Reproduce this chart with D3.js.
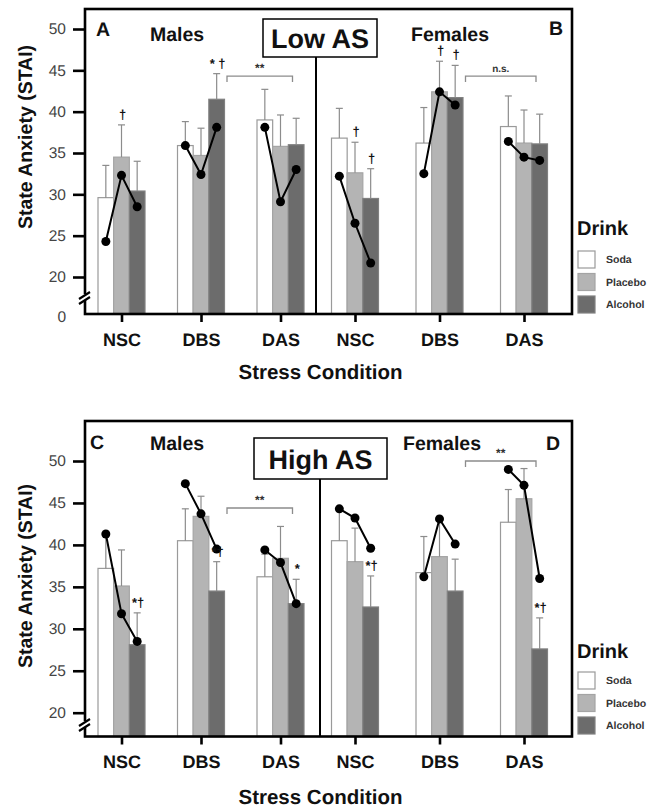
<!DOCTYPE html>
<html>
<head>
<meta charset="utf-8">
<script src="https://cdn.jsdelivr.net/npm/d3@7"></script>
<style>
  html, body { margin: 0; padding: 0; background: #fff; }
  svg { display: block; font-family: "Liberation Sans", Arial, Helvetica, sans-serif; text-rendering: geometricPrecision; }
</style>
</head>
<body>
<div id="chart"></div>
<script>
// ---------------- DATA ----------------
const conditions = ["NSC", "DBS", "DAS"];
const drinks = ["Soda", "Placebo", "Alcohol"];
const yTickValues = [20, 25, 30, 35, 40, 45, 50];

// Low AS - Males (A): [condition][drink]
const lowMaleMean = [[29.6, 34.5, 30.4], [35.9, 34.7, 41.5], [39.0, 35.8, 36.0]];
const lowMaleSE   = [[3.9, 3.9, 3.6], [2.9, 3.3, 3.1], [3.7, 3.8, 3.2]];
const lowMaleDot  = [[24.3, 32.3, 28.5], [35.9, 32.4, 38.1], [38.1, 29.1, 33.0]];

// Low AS - Females (B)
const lowFemaleMean = [[36.8, 32.6, 29.5], [36.2, 42.4, 41.7], [38.2, 36.2, 36.1]];
const lowFemaleSE   = [[3.6, 3.7, 3.6], [4.3, 3.7, 3.9], [3.7, 4.0, 3.6]];
const lowFemaleDot  = [[32.2, 26.5, 21.7], [32.5, 42.4, 40.8], [36.4, 34.5, 34.1]];

// High AS - Males (C)
const highMaleMean = [[37.2, 35.1, 28.1], [40.5, 43.4, 34.5], [36.2, 38.4, 33.0]];
const highMaleSE   = [[3.8, 4.3, 3.8], [3.8, 2.4, 3.5], [2.7, 3.8, 2.9]];
const highMaleDot  = [[41.3, 31.8, 28.5], [47.3, 43.7, 39.5], [39.4, 37.9, 33.0]];

// High AS - Females (D)
const highFemaleMean = [[40.5, 38.0, 32.6], [36.7, 38.6, 34.5], [42.7, 45.5, 27.6]];
const highFemaleSE   = [[3.7, 4.0, 3.7], [4.3, 4.6, 3.8], [3.9, 3.6, 3.7]];
const highFemaleDot  = [[44.3, 43.2, 39.6], [36.2, 43.1, 40.1], [49.0, 47.1, 36.0]];

// significance marks
const lowMarks = [
  { sex: "M", cond: "NSC", drink: "Placebo", text: "†" },
  { sex: "M", cond: "DBS", drink: "Alcohol", text: "* †" },
  { sex: "F", cond: "NSC", drink: "Placebo", text: "†" },
  { sex: "F", cond: "NSC", drink: "Alcohol", text: "†" },
  { sex: "F", cond: "DBS", drink: "Placebo", text: "†" },
  { sex: "F", cond: "DBS", drink: "Alcohol", text: "†" }
];
const highMarks = [
  { sex: "M", cond: "NSC", drink: "Alcohol", text: "*†" },
  { sex: "M", cond: "DBS", drink: "Alcohol", text: "*†" },
  { sex: "M", cond: "DAS", drink: "Alcohol", text: "*" },
  { sex: "F", cond: "NSC", drink: "Alcohol", text: "*†" },
  { sex: "F", cond: "DAS", drink: "Alcohol", text: "*†" }
];
const lowBrackets = [
  { sex: "M", from: "DBS", to: "DAS", level: 44.3, text: "**" },
  { sex: "F", from: "DBS", to: "DAS", level: 44.3, text: "n.s." }
];
const highBrackets = [
  { sex: "M", from: "DBS", to: "DAS", level: 44.4, text: "**" },
  { sex: "F", from: "DBS", to: "DAS", level: 50.0, text: "**" }
];

// ---------------- DRAWING ----------------
const W = 663, H = 808;
const svg = d3.select("#chart").append("svg").attr("width", W).attr("height", H);

const fillColor = d3.scaleOrdinal().domain(drinks).range(["#ffffff", "#b4b4b4", "#6c6c6c"]);
const strokeColor = d3.scaleOrdinal().domain(drinks).range(["#9a9a9a", "#a4a4a4", "#808080"]);
const offset = d3.scaleBand().domain(drinks).range([-23.5, 23.5]);

const xM = d3.scalePoint().domain(conditions).range([121.5, 280.5]);
const xF = d3.scalePoint().domain(conditions).range([355, 524]);

function toRows(mean, se, dot) {
  const rows = [];
  conditions.forEach((c, i) => drinks.forEach((d, j) => {
    rows.push({ cond: c, drink: d, mean: mean[i][j], se: se[i][j], dot: dot[i][j] });
  }));
  return rows;
}

function drawPanel(cfg) {
  const g = svg.append("g");
  const y = d3.scaleLinear().domain([20, 50]).range([cfg.y20, cfg.y50]);
  const base = cfg.baseline;
  const left = 85, right = 572;

  const groups = [
    { sex: "M", x: xM, rows: toRows(...cfg.male) },
    { sex: "F", x: xF, rows: toRows(...cfg.female) }
  ];

  groups.forEach(grp => {
    const bx = r => grp.x(r.cond) + offset(r.drink);
    const cx = r => bx(r) + offset.bandwidth() / 2;

    // bars
    g.append("g").selectAll("rect").data(grp.rows).join("rect")
      .attr("x", bx).attr("y", r => y(r.mean))
      .attr("width", offset.bandwidth()).attr("height", r => base - y(r.mean))
      .attr("fill", r => fillColor(r.drink))
      .attr("stroke", r => strokeColor(r.drink)).attr("stroke-width", 1.2);

    // error bars
    const eb = g.append("g").attr("stroke", "#8c8c8c").attr("stroke-width", 1.2);
    eb.selectAll("line.v").data(grp.rows).join("line").attr("class", "v")
      .attr("x1", cx).attr("x2", cx)
      .attr("y1", r => y(r.mean)).attr("y2", r => y(r.mean + r.se));
    eb.selectAll("line.c").data(grp.rows).join("line").attr("class", "c")
      .attr("x1", r => cx(r) - 3.5).attr("x2", r => cx(r) + 3.5)
      .attr("y1", r => y(r.mean + r.se)).attr("y2", r => y(r.mean + r.se));

    // lines + dots
    conditions.forEach(c => {
      const pts = grp.rows.filter(r => r.cond === c);
      g.append("path").datum(pts)
        .attr("d", d3.line().x(cx).y(r => y(r.dot)))
        .attr("fill", "none").attr("stroke", "#000").attr("stroke-width", 2);
      g.append("g").selectAll("circle").data(pts).join("circle")
        .attr("cx", cx).attr("cy", r => y(r.dot)).attr("r", 4.5).attr("fill", "#000");
    });

    // marks
    cfg.marks.filter(m => m.sex === grp.sex).forEach(m => {
      const r = grp.rows.find(q => q.cond === m.cond && q.drink === m.drink);
      g.append("text").attr("x", cx(r) + 1).attr("y", y(r.mean + r.se) - 6)
        .attr("text-anchor", "middle").attr("font-size", 13).attr("font-weight", "bold")
        .attr("fill", "#111").text(m.text);
    });

    // brackets
    cfg.brackets.filter(b => b.sex === grp.sex).forEach(b => {
      const x1 = grp.x(b.from) + 26, x2 = grp.x(b.to) + 12, yy = y(b.level);
      g.append("path")
        .attr("d", `M${x1},${yy + 6}V${yy}H${x2}V${yy + 6}`)
        .attr("fill", "none").attr("stroke", "#8c8c8c").attr("stroke-width", 1.3);
      g.append("text").attr("x", (x1 + x2) / 2).attr("y", yy - 4)
        .attr("text-anchor", "middle").attr("font-size", b.text === "n.s." ? 10 : 12)
        .attr("font-weight", "bold").attr("fill", "#333").text(b.text);
    });
  });

  // frame
  g.append("rect").attr("x", left).attr("y", cfg.frameTop)
    .attr("width", right - left).attr("height", base - cfg.frameTop)
    .attr("fill", "none").attr("stroke", "#000").attr("stroke-width", 2.6);

  // divider
  g.append("line").attr("x1", cfg.divX).attr("x2", cfg.divX)
    .attr("y1", cfg.box[3]).attr("y2", base)
    .attr("stroke", "#000").attr("stroke-width", 2);

  // y axis
  const ya = g.append("g").attr("transform", `translate(${left},0)`)
    .call(d3.axisLeft(y).tickValues(yTickValues).tickSize(12).tickPadding(7));
  ya.select(".domain").remove();
  ya.selectAll(".tick line").attr("stroke", "#000").attr("stroke-width", 2.6);
  ya.selectAll(".tick text").attr("font-size", 15.5).attr("fill", "#444")
    .attr("font-family", "Liberation Sans, Arial, sans-serif");
  if (cfg.zeroLabel) {
    g.append("text").attr("x", 66).attr("y", base + 3).attr("dy", "0.35em")
      .attr("text-anchor", "end").attr("font-size", 15.5).attr("fill", "#444").text("0");
  }

  // axis break
  const by = cfg.breakY;
  g.append("rect").attr("x", left - 3).attr("y", by - 4).attr("width", 6).attr("height", 6).attr("fill", "#fff");
  g.append("path").attr("d", `M${left - 6},${by + 1}L${left + 5},${by - 6}M${left - 6},${by + 6}L${left + 5},${by - 1}`)
    .attr("stroke", "#000").attr("stroke-width", 2.2).attr("fill", "none");

  // x axes
  [xM, xF].forEach(xs => {
    const xa = g.append("g").attr("transform", `translate(0,${base})`)
      .call(d3.axisBottom(xs).tickSize(8).tickPadding(11));
    xa.select(".domain").remove();
    xa.selectAll(".tick line").attr("stroke", "#000").attr("stroke-width", 2.6);
    xa.selectAll(".tick text").attr("font-size", 18).attr("font-weight", "bold").attr("fill", "#111")
      .attr("font-family", "Liberation Sans, Arial, sans-serif");
  });

  // titles
  g.append("text").attr("x", W / 2 - 11).attr("y", cfg.xTitleY).attr("dy", "0.35em")
    .attr("text-anchor", "middle").attr("font-size", 20.5).attr("font-weight", "bold").attr("fill", "#111")
    .text("Stress Condition");
  g.append("text").attr("transform", `translate(25,${cfg.yTitleY}) rotate(-90)`).attr("dy", "0.35em")
    .attr("text-anchor", "middle").attr("font-size", 19.5).attr("font-weight", "bold").attr("fill", "#111")
    .text("State Anxiety (STAI)");

  // panel letters + sex labels
  const lab = (x, yy, t, fs) => g.append("text").attr("x", x).attr("y", yy).attr("dy", "0.35em")
    .attr("text-anchor", "middle").attr("font-size", fs).attr("font-weight", "bold").attr("fill", "#111").text(t);
  lab(cfg.letters[0][0], cfg.letters[0][1], cfg.letters[0][2], 19.5);
  lab(cfg.letters[1][0], cfg.letters[1][1], cfg.letters[1][2], 19.5);
  lab(177, cfg.sexY, "Males", 19.5);
  lab(cfg.femX, cfg.sexY, "Females", 19.5);

  // AS box
  const [bx0, by0, bx1, by1] = cfg.box;
  g.append("rect").attr("x", bx0).attr("y", by0).attr("width", bx1 - bx0).attr("height", by1 - by0)
    .attr("fill", "#fff").attr("stroke", "#000").attr("stroke-width", 1.5);
  lab((bx0 + bx1) / 2, (by0 + by1) / 2 + 1, cfg.boxText, 27);

  // legend
  const lg = g.append("g").attr("transform", `translate(577,${cfg.legendY})`);
  lg.append("text").attr("x", 0).attr("y", 0).attr("dy", "0.35em")
    .attr("font-size", 20).attr("font-weight", "bold").attr("fill", "#111").text("Drink");
  const items = lg.selectAll("g.item").data(drinks).join("g").attr("class", "item")
    .attr("transform", (d, i) => `translate(1,${cfg.legendRow0 + i * 22.5})`);
  items.append("rect").attr("width", 17).attr("height", 17)
    .attr("fill", d => fillColor(d)).attr("stroke", d => strokeColor(d)).attr("stroke-width", 1.2);
  items.append("text").attr("x", 28).attr("y", 8.5).attr("dy", "0.35em")
    .attr("font-size", 10.5).attr("font-weight", "bold").attr("fill", "#333").text(d => d);
}

drawPanel({
  male: [lowMaleMean, lowMaleSE, lowMaleDot],
  female: [lowFemaleMean, lowFemaleSE, lowFemaleDot],
  marks: lowMarks, brackets: lowBrackets,
  y20: 277, y50: 29, baseline: 314, frameTop: 9, breakY: 298, zeroLabel: true,
  divX: 316, box: [263, 19, 377, 57], boxText: "Low AS",
  letters: [[103, 29, "A"], [556, 28, "B"]], sexY: 34, femX: 450,
  xTitleY: 372, yTitleY: 137, legendY: 228, legendRow0: 23
});

drawPanel({
  male: [highMaleMean, highMaleSE, highMaleDot],
  female: [highFemaleMean, highFemaleSE, highFemaleDot],
  marks: highMarks, brackets: highBrackets,
  y20: 712.7, y50: 461, baseline: 736.5, frameTop: 421, breakY: 725, zeroLabel: false,
  divX: 320, box: [254, 438, 387, 479], boxText: "High AS",
  letters: [[97, 442, "C"], [553, 443, "D"]], sexY: 443, femX: 442,
  xTitleY: 797, yTitleY: 576, legendY: 651, legendRow0: 21
});
</script>
</body>
</html>
